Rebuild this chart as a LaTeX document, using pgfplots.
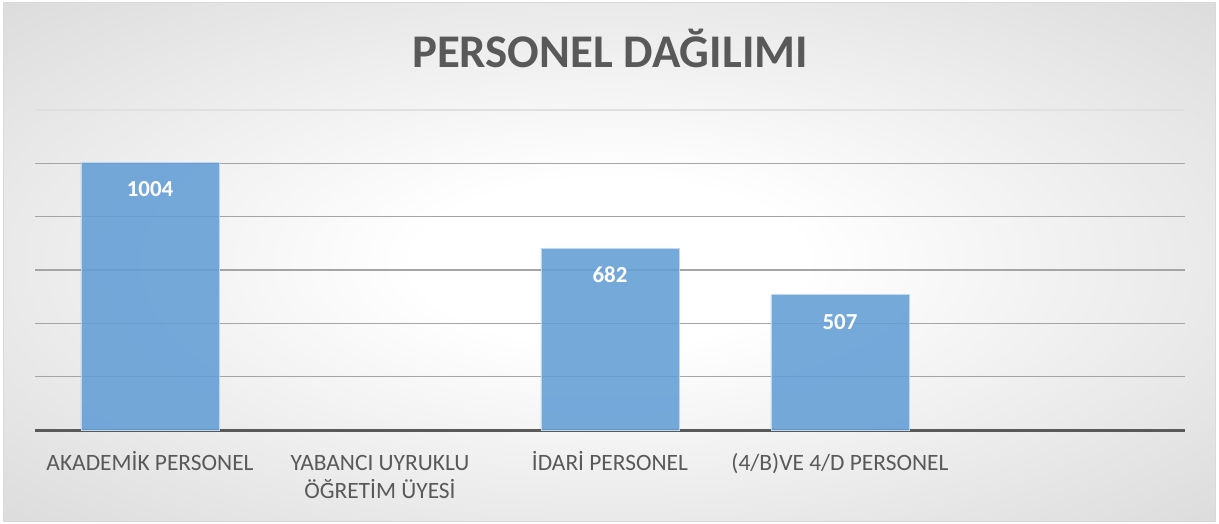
\documentclass[border=0pt]{standalone}
\usepackage{pgfplots}
\pgfplotsset{compat=1.18}
\usepackage{fontspec}
\setmainfont{Carlito}
\definecolor{barblue}{RGB}{98,158,214}
\definecolor{txtgray}{RGB}{89,89,89}
\definecolor{gridgray}{RGB}{165,165,165}
\pgfdeclareradialshading{bgshade}{\pgfpoint{0bp}{0bp}}{color(0bp)=(white); color(8bp)=(white); color(70bp)=(black!31)}
\begin{document}
\begin{tikzpicture}
\useasboundingbox (-35bp,-94bp) rectangle (1184bp,430bp);
\fill[white] (-35bp,-94bp) rectangle (1184bp,430bp);
\shade[shading=bgshade] (-31bp,-91bp) rectangle (1180bp,427bp);
\draw[black!15, line width=1bp] (-31bp,-91bp) rectangle (1180bp,427bp);
\begin{axis}[
  at={(0,0)}, anchor=south west,
  scale only axis, width=1150bp, height=320bp,
  ybar, bar width=138bp,
  xmin=-0.5, xmax=4.5, ymin=0, ymax=1200,
  axis x line=bottom, axis y line=left,
  y axis line style={draw=none},
  x axis line style={line width=3bp, color=txtgray, -},
  xtick={0,1,2,3},
  xticklabels={AKADEMİK PERSONEL,{\begin{tabular}[t]{@{}c@{}}YABANCI UYRUKLU\\ÖĞRETİM ÜYESİ\end{tabular}},İDARİ PERSONEL,(4/B)VE 4/D PERSONEL},
  xticklabel style={font=\fontsize{23.5}{29}\selectfont, text=txtgray, anchor=base, yshift=-40bp},
  major tick length=0pt,
  ytick={200,400,600,800,1000},
  yticklabels={},
  extra y ticks={1200}, extra y tick labels={},
  extra y tick style={grid style={black!12, line width=1.2bp}},
  ymajorgrids, grid style={gridgray, line width=1.2bp},
  nodes near coords,
  /pgf/number format/assume math mode=true,
  /pgf/number format/1000 sep={},
  every node near coord/.append style={anchor=center, yshift=-27bp, text=white, font=\fontsize{23}{27}\selectfont\bfseries, text opacity=1},
  clip=false,
]
\addplot[fill=barblue, fill opacity=0.88, draw=white!60!barblue, line width=0.8bp] coordinates {(0,1004) (2,682) (3,507)};
\end{axis}
\node[text=txtgray, font=\fontsize{47}{56}\selectfont\bfseries] at (575bp,382bp) {PERSONEL DAĞILIMI};
\end{tikzpicture}
\end{document}
